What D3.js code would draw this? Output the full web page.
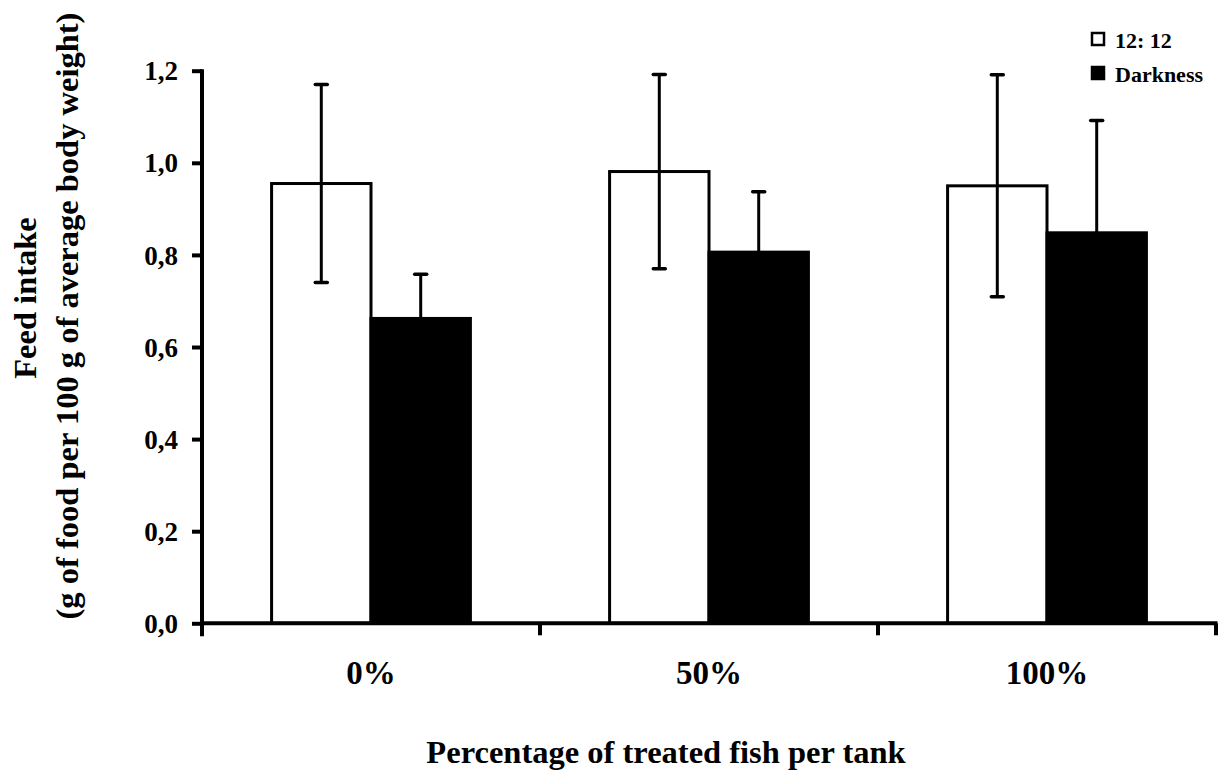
<!DOCTYPE html>
<html>
<head>
<meta charset="utf-8">
<script src="https://cdn.jsdelivr.net/npm/d3@7"></script>
<style>
  html, body { margin: 0; padding: 0; background: #fff; }
  svg { display: block; }
  text { font-family: "Liberation Serif", "Times New Roman", serif; font-weight: bold; fill: #000; }
</style>
</head>
<body>
<svg id="chart" width="1219" height="771"></svg>
<script>
const categories = ["0%", "50%", "100%"];
const seriesNames = ["12: 12", "Darkness"];
const lightValues = [0.955, 0.981, 0.950];
const lightErrors = [0.215, 0.211, 0.241];
const darkValues = [0.662, 0.806, 0.848];
const darkErrors = [0.096, 0.131, 0.244];
const yTicks = [0, 0.2, 0.4, 0.6, 0.8, 1.0, 1.2];
const yTitle1 = "Feed intake";
const yTitle2 = "(g of food per 100 g of average body weight)";
const xTitle = "Percentage of treated fish per tank";

(function () {
const svg = d3.select("#chart");
const pLeft = 202, pRight = 1216, pTop = 70.7, pBottom = 623.3;

const y = d3.scaleLinear().domain([0, 1.2]).range([pBottom, pTop]);
const x0 = d3.scaleBand().domain(categories).range([pLeft, pRight]).paddingInner(0).paddingOuter(0);
const x1 = d3.scaleBand().domain(seriesNames).range([0, x0.bandwidth()]).paddingInner(0).paddingOuter(0.7);

const series = [
  { name: seriesNames[0], values: lightValues, errors: lightErrors, fill: "#fff" },
  { name: seriesNames[1], values: darkValues, errors: darkErrors, fill: "#000" }
];

// bars
series.forEach(s => {
  const g = svg.append("g");
  g.selectAll("rect").data(categories).join("rect")
    .attr("x", c => x0(c) + x1(s.name))
    .attr("y", (c, i) => y(s.values[i]))
    .attr("width", x1.bandwidth())
    .attr("height", (c, i) => y(0) - y(s.values[i]))
    .attr("fill", s.fill)
    .attr("stroke", "#000")
    .attr("stroke-width", 3);
});

// error bars
series.forEach(s => {
  const g = svg.append("g");
  categories.forEach((c, i) => {
    const cx = x0(c) + x1(s.name) + x1.bandwidth() / 2;
    const hi = y(s.values[i] + s.errors[i]);
    const lo = s.fill === "#fff" ? y(s.values[i] - s.errors[i]) : y(s.values[i]);
    g.append("line").attr("x1", cx).attr("x2", cx).attr("y1", hi).attr("y2", lo)
      .attr("stroke", "#000").attr("stroke-width", 3);
    g.append("line").attr("x1", cx - 6).attr("x2", cx + 6).attr("y1", hi).attr("y2", hi)
      .attr("stroke", "#000").attr("stroke-width", 3.5).attr("stroke-linecap", "round");
    if (s.fill === "#fff") {
      g.append("line").attr("x1", cx - 6).attr("x2", cx + 6).attr("y1", lo).attr("y2", lo)
        .attr("stroke", "#000").attr("stroke-width", 3.5).attr("stroke-linecap", "round");
    }
  });
});

// y axis
const yAxis = d3.axisLeft(y).tickValues(yTicks).tickSize(10).tickPadding(14)
  .tickFormat(d => d3.format(".1f")(d).replace(".", ","));
const yg = svg.append("g").attr("transform", `translate(${pLeft},0)`).call(yAxis);
yg.select(".domain").attr("stroke", "#000").attr("stroke-width", 4)
  .attr("d", `M0,${pTop - 1.5}V${pBottom + 13}`);
yg.selectAll(".tick line").attr("stroke", "#000").attr("stroke-width", 4);
yg.selectAll(".tick text").style("font-size", "27px").attr("dy", "0.34em");

// x axis: ticks at category boundaries
const boundaries = categories.map(c => x0(c)).concat([pRight]);
const xg = svg.append("g");
xg.append("line").attr("x1", pLeft - 2).attr("x2", pRight + 1.5).attr("y1", pBottom).attr("y2", pBottom)
  .attr("stroke", "#000").attr("stroke-width", 4);
xg.selectAll("line.tk").data(boundaries.slice(1)).join("line").attr("class", "tk")
  .attr("x1", d => d).attr("x2", d => d).attr("y1", pBottom).attr("y2", pBottom + 12)
  .attr("stroke", "#000").attr("stroke-width", 4);
xg.selectAll("text").data(categories).join("text")
  .attr("x", c => x0(c) + x0.bandwidth() / 2)
  .attr("y", 684)
  .attr("text-anchor", "middle")
  .style("font-size", "33px")
  .text(c => c);

// titles
svg.append("text").attr("x", 666).attr("y", 763)
  .attr("text-anchor", "middle").style("font-size", "32.5px").text(xTitle);
svg.append("text").attr("transform", "translate(36,298) rotate(-90)")
  .attr("text-anchor", "middle").style("font-size", "32.5px").text(yTitle1);
svg.append("text").attr("transform", "translate(78,316) rotate(-90)")
  .attr("text-anchor", "middle").style("font-size", "32.5px").text(yTitle2);

// legend
const lg = svg.append("g");
series.forEach((s, i) => {
  const yy = 33 + i * 34;
  lg.append("rect").attr("x", 1092).attr("y", yy).attr("width", 12).attr("height", 12)
    .attr("fill", s.fill).attr("stroke", "#000").attr("stroke-width", 2.5);
  lg.append("text").attr("x", 1115).attr("y", yy + 14.5).style("font-size", "22px").text(s.name);
});
})();
</script>
</body>
</html>
